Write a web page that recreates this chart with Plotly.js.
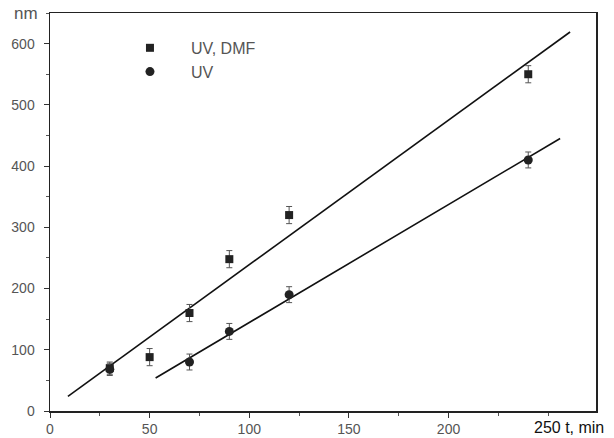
<!DOCTYPE html>
<html>
<head>
<meta charset="utf-8">
<script src="https://cdn.plot.ly/plotly-3.0.1.min.js"></script>
<style>html,body{margin:0;padding:0;background:#fff;}#chart{width:614px;height:438px;}</style>
</head>
<body>
<div id="chart"></div>
<script>
// Data
const dmfTime = [30, 50, 70, 90, 120, 240];
const dmfSize = [70, 88, 160, 248, 320, 550];
const dmfErr  = [10, 14, 14, 14, 14, 14];

const uvTime = [30, 70, 90, 120, 240];
const uvSize = [68, 80, 130, 190, 410];
const uvErr  = [10, 13, 13, 13, 13];

// Linear fit lines (end points)
const dmfFitX = [9, 261];
const dmfFitY = [24, 619];
const uvFitX  = [53, 256];
const uvFitY  = [54, 445];

const xTicks = [0, 50, 100, 150, 200];
const yTicks = [0, 100, 200, 300, 400, 500, 600];

const tickFont = {family: 'Liberation Sans, Arial, sans-serif', size: 14, color: '#555'};

const traces = [
  {x: dmfFitX, y: dmfFitY, mode: 'lines', line: {color: '#111', width: 1.6}, showlegend: false, hoverinfo: 'skip'},
  {x: uvFitX, y: uvFitY, mode: 'lines', line: {color: '#111', width: 1.6}, showlegend: false, hoverinfo: 'skip'},
  {x: dmfTime, y: dmfSize, name: 'UV, DMF', mode: 'markers',
   marker: {symbol: 'square', size: 8, color: '#222'},
   error_y: {type: 'data', array: dmfErr, visible: true, color: '#555', thickness: 1, width: 3}},
  {x: uvTime, y: uvSize, name: 'UV', mode: 'markers',
   marker: {symbol: 'circle', size: 9, color: '#222'},
   error_y: {type: 'data', array: uvErr, visible: true, color: '#555', thickness: 1, width: 3}}
];

const layout = {
  width: 614, height: 438,
  margin: {l: 50, r: 18, t: 13, b: 27},
  paper_bgcolor: '#fff', plot_bgcolor: '#fff',
  showlegend: true,
  legend: {x: 0.108, y: 0.955, xanchor: 'left', yanchor: 'top', bgcolor: 'rgba(0,0,0,0)', itemwidth: 72,
           font: {family: 'Liberation Sans, Arial, sans-serif', size: 16, color: '#555'}, tracegroupgap: 0},
  xaxis: {range: [0, 274], tickvals: xTicks, ticks: 'outside', ticklen: 5, tickcolor: '#333',
          showline: true, linecolor: '#222', linewidth: 1.5, mirror: true, showgrid: false, zeroline: false,
          tickfont: tickFont,
          minor: {dtick: 25, ticks: 'outside', ticklen: 3, tickcolor: '#555'}},
  yaxis: {range: [0, 650], tickvals: yTicks, ticks: 'outside', ticklen: 5, tickcolor: '#333',
          showline: true, linecolor: '#222', linewidth: 1.5, mirror: true, showgrid: false, zeroline: false,
          tickfont: tickFont, ticklabelstandoff: 6,
          minor: {dtick: 50, ticks: 'outside', ticklen: 3, tickcolor: '#555'}},
  annotations: [
    {text: 'nm', xref: 'paper', yref: 'paper', x: 0, y: 1.0, xanchor: 'right', yanchor: 'middle', xshift: -10,
     showarrow: false, font: {family: 'Liberation Sans, Arial, sans-serif', size: 17, color: '#555'}},
    {text: '250 t, min', xref: 'x', yref: 'paper', x: 250, y: 0, xanchor: 'left', yanchor: 'top', xshift: -16, yshift: -6,
     showarrow: false, font: {family: 'Liberation Sans, Arial, sans-serif', size: 16, color: '#111'}}
  ]
};

Plotly.newPlot('chart', traces, layout, {displayModeBar: false, staticPlot: true});
</script>
</body>
</html>
